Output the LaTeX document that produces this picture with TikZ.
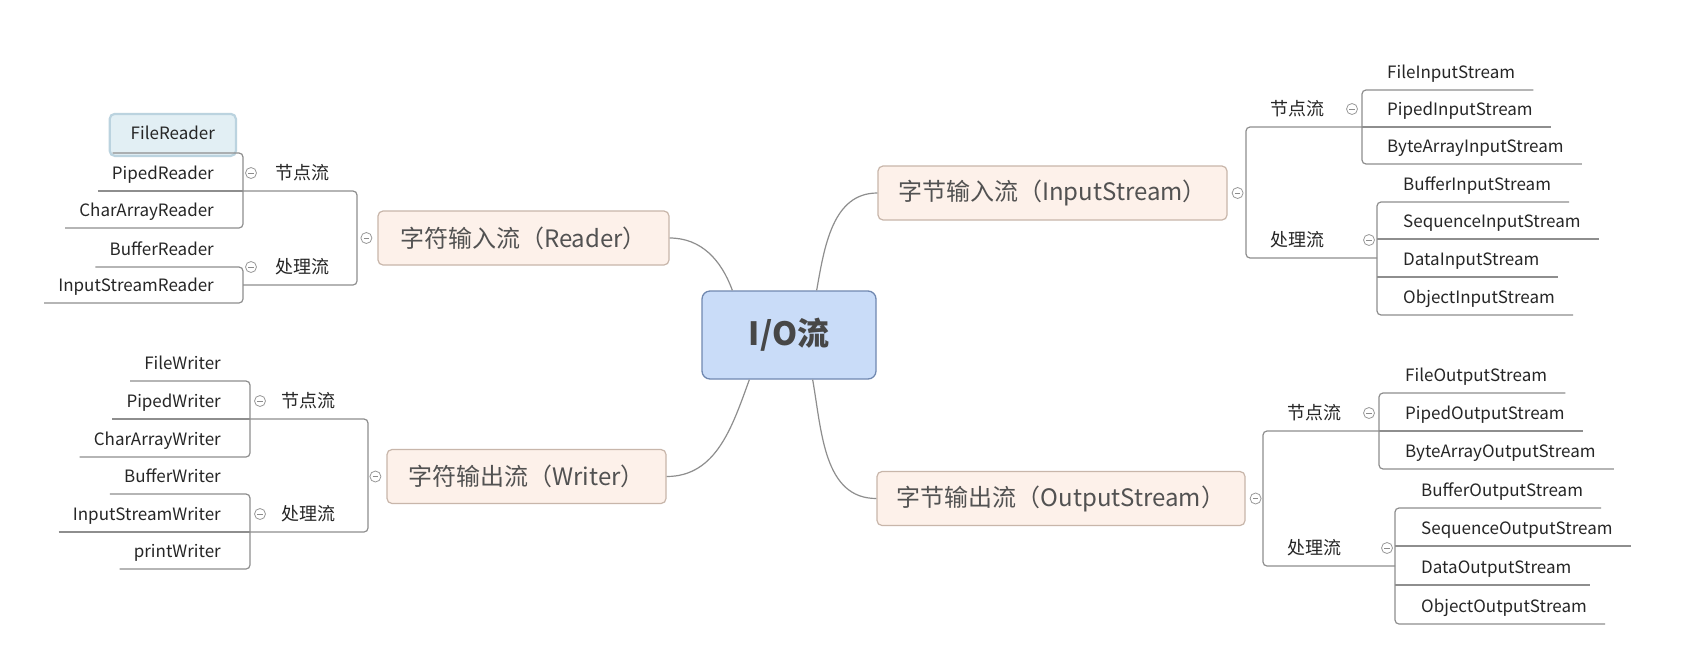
\documentclass[tikz,border=0pt]{standalone}
\usepackage{fontspec}
\setmainfont{Noto Sans CJK SC}

\definecolor{linegray}{HTML}{8E8E8E}
\definecolor{topicfill}{HTML}{FDF1EA}
\definecolor{topicline}{HTML}{C8B6AA}
\definecolor{rootfill}{HTML}{C9DCF8}
\definecolor{rootline}{HTML}{7088B0}
\definecolor{pickfill}{HTML}{E2EFF4}
\definecolor{pickline}{HTML}{BBD3DF}

\begin{document}
\begin{tikzpicture}[x=1pt,y=-1pt,
  branch/.style={draw=linegray,line width=1.2pt,rounded corners=4pt},
  curve/.style={draw=linegray,line width=1.2pt},
  root/.style={draw=rootline,fill=rootfill,line width=1.3pt,rounded corners=8pt,minimum width=174pt,minimum height=88pt,font=\fontsize{32}{36}\selectfont\bfseries,text=black!72},
  topic/.style={draw=topicline,fill=topicfill,line width=1.2pt,rounded corners=5pt,minimum height=54pt,inner xsep=0pt,font=\fontsize{24}{28}\selectfont,text=black!68},
  leaf/.style={font=\fontsize{17}{21}\selectfont,text=black!85,text height=13pt,text depth=4pt,inner ysep=7pt},
  leafR/.style={leaf,anchor=south west,inner xsep=18pt},
  leafL/.style={leaf,anchor=south east,inner xsep=14pt},
  flowtag/.style={leaf,font=\fontsize{18}{22}\selectfont,anchor=south west,inner xsep=0pt},
  picked/.style={leaf,anchor=south east,inner xsep=21pt,inner ysep=12.5pt,draw=pickline,fill=pickfill,line width=2.2pt,rounded corners=5pt},
  fold/.style={circle,draw=black!40,fill=white,line width=0.8pt,inner sep=0pt,minimum size=11pt,
    path picture={\draw[black!45,line width=0.8pt] ([xshift=-2.8pt]path picture bounding box.center) -- ([xshift=2.8pt]path picture bounding box.center);}}]

\fill[white] (0,0) rectangle (1704,646);
\useasboundingbox (0,0) rectangle (1704,646);

% centre and the four main topics
\node[root] (io) at (789,335) {I/O流};
\node[topic,minimum width=291pt] (rdr) at (523.5,238) {字符输入流（Reader）};
\node[topic,minimum width=279pt] (wtr) at (526.5,476.5) {字符输出流（Writer）};
\node[topic,minimum width=349pt] (ins) at (1052.5,193) {字节输入流（InputStream）};
\node[topic,minimum width=368pt] (outs) at (1061,498.5) {字节输出流（OutputStream）};

\node[fold] (rdrf) at ([xshift=-11pt]rdr.west) {};
\node[fold] (wtrf) at ([xshift=-11pt]wtr.west) {};
\node[fold] (insf) at ([xshift=10pt]ins.east) {};
\node[fold] (outsf) at ([xshift=10pt]outs.east) {};

\draw[curve] (rdr.east) to[out=0,in=110] ([xshift=31pt]io.north west);
\draw[curve] ([xshift=-60pt]io.north east) to[out=80,in=180] (ins.west);
\draw[curve] (wtr.east) to[out=0,in=-110] ([xshift=48pt]io.south west);
\draw[curve] ([xshift=-64pt]io.south east) to[out=-80,in=180] (outs.west);

% bracket columns
\coordinate (rdrM) at (357,0);
\coordinate (rdrK) at (243,0);
\coordinate (wtrM) at (368,0);
\coordinate (wtrK) at (250,0);
\coordinate (insM) at (1246,0);
\coordinate (insJ) at (1362,0);
\coordinate (insC) at (1377,0);
\coordinate (outM) at (1263,0);
\coordinate (outJ) at (1379,0);
\coordinate (outC) at (1395,0);

% Reader
\node[flowtag] (rj) at (275,191) {节点流};
\node[flowtag] (rc) at (275,285) {处理流};
\node[fold] (rjf) at (251,173) {};
\node[fold] (rcf) at (251,267) {};
\node[picked] (fr) at (237,157) {FileReader};
\node[leafL] (pr) at (228,191) {PipedReader};
\node[leafL] (car) at (228,228) {CharArrayReader};
\node[leafL] (bfr) at (228,267) {BufferReader};
\node[leafL] (isr) at (228,303) {InputStreamReader};
\draw[branch] (rj.south -| rdrK) -- (rj.south -| rdrM) -- (rc.south -| rdrM) -- (rc.south -| rdrK);
\draw[branch] ([xshift=4pt,yshift=4pt]fr.south west) -- ([yshift=4pt]fr.south -| rdrK) -- (car.south -| rdrK) -- (car.south west);
\draw[branch] (pr.south west) -- (pr.south -| rdrK);
\draw[branch] (bfr.south west) -- (bfr.south -| rdrK) -- (isr.south -| rdrK) -- (isr.south west);

% Writer
\node[flowtag] (wj) at (281,419) {节点流};
\node[flowtag] (wc) at (281,532) {处理流};
\node[fold] (wjf) at (260,401) {};
\node[fold] (wcf) at (260,514) {};
\node[leafL] (fw) at (235,381) {FileWriter};
\node[leafL] (pw) at (235,419) {PipedWriter};
\node[leafL] (caw) at (235,457) {CharArrayWriter};
\node[leafL] (bw) at (235,494) {BufferWriter};
\node[leafL] (isw) at (235,532) {InputStreamWriter};
\node[leafL] (prw) at (235,569) {printWriter};
\draw[branch] (wj.south -| wtrK) -- (wj.south -| wtrM) -- (wc.south -| wtrM) -- (wc.south -| wtrK);
\draw[branch] (fw.south west) -- (fw.south -| wtrK) -- (caw.south -| wtrK) -- (caw.south west);
\draw[branch] (pw.south west) -- (pw.south -| wtrK);
\draw[branch] (bw.south west) -- (bw.south -| wtrK) -- (prw.south -| wtrK) -- (prw.south west);
\draw[branch] (isw.south west) -- (isw.south -| wtrK);

% InputStream
\node[flowtag] (ij) at (1270,127) {节点流};
\node[flowtag] (ic) at (1270,258) {处理流};
\node[fold] (ijf) at (1352,109) {};
\node[fold] (icf) at (1369,240) {};
\node[leafR] (fis) at (1369,90) {FileInputStream};
\node[leafR] (pis) at (1369,127) {PipedInputStream};
\node[leafR] (bais) at (1369,164) {ByteArrayInputStream};
\node[leafR] (bis) at (1385,202) {BufferInputStream};
\node[leafR] (sis) at (1385,239) {SequenceInputStream};
\node[leafR] (dis) at (1385,277) {DataInputStream};
\node[leafR] (ois) at (1385,315) {ObjectInputStream};
\draw[branch] (ij.south -| insJ) -- (ij.south -| insM) -- (ic.south -| insM) -- (ic.south -| insC);
\draw[branch] (fis.south east) -- (fis.south -| insJ) -- (bais.south -| insJ) -- (bais.south east);
\draw[branch] (pis.south east) -- (pis.south -| insJ);
\draw[branch] (bis.south east) -- (bis.south -| insC) -- (ois.south -| insC) -- (ois.south east);
\draw[branch] (sis.south east) -- (sis.south -| insC);
\draw[branch] (dis.south east) -- (dis.south -| insC);

% OutputStream
\node[flowtag] (oj) at (1287,431) {节点流};
\node[flowtag] (oc) at (1287,566) {处理流};
\node[fold] (ojf) at (1369,413) {};
\node[fold] (ocf) at (1387,548) {};
\node[leafR] (fos) at (1387,393) {FileOutputStream};
\node[leafR] (pos) at (1387,431) {PipedOutputStream};
\node[leafR] (baos) at (1387,469) {ByteArrayOutputStream};
\node[leafR] (bos) at (1403,508) {BufferOutputStream};
\node[leafR] (sos) at (1403,546) {SequenceOutputStream};
\node[leafR] (dos) at (1403,585) {DataOutputStream};
\node[leafR] (oos) at (1403,624) {ObjectOutputStream};
\draw[branch] (oj.south -| outJ) -- (oj.south -| outM) -- (oc.south -| outM) -- (oc.south -| outC);
\draw[branch] (fos.south east) -- (fos.south -| outJ) -- (baos.south -| outJ) -- (baos.south east);
\draw[branch] (pos.south east) -- (pos.south -| outJ);
\draw[branch] (bos.south east) -- (bos.south -| outC) -- (oos.south -| outC) -- (oos.south east);
\draw[branch] (sos.south east) -- (sos.south -| outC);
\draw[branch] (dos.south east) -- (dos.south -| outC);
\end{tikzpicture}
\end{document}
